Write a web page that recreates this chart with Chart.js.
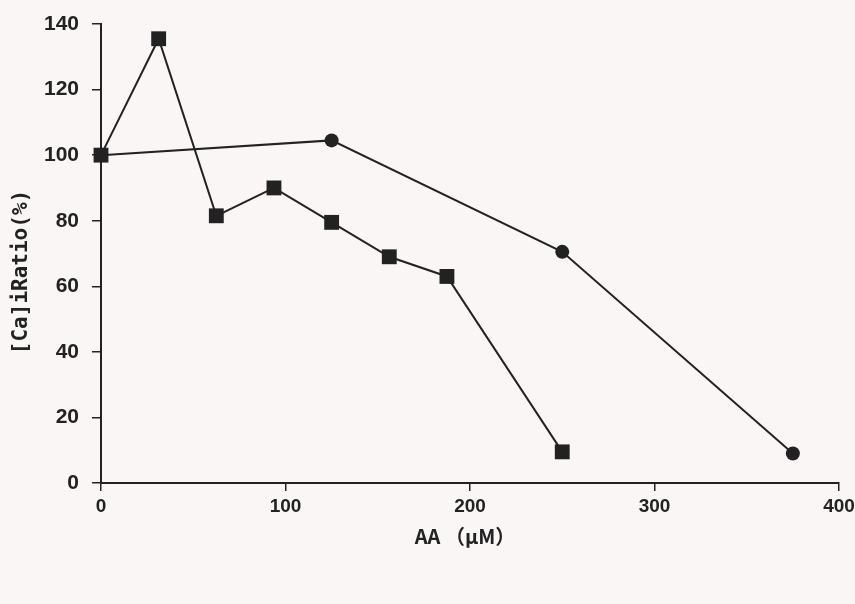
<!DOCTYPE html>
<html>
<head>
<meta charset="utf-8">
<script src="https://cdn.jsdelivr.net/npm/chart.js@4/dist/chart.umd.min.js"></script>
<style>
  html, body { margin: 0; padding: 0; background: #faf6f6; }
  #wrap { width: 855px; height: 604px; }
</style>
</head>
<body>
<div id="wrap"><canvas id="chart" width="855" height="604"></canvas></div>
<script>
// ---------- Data ----------
const squareX = [0, 31.25, 62.5, 93.75, 125, 156.25, 187.5, 250];
const squareY = [100, 135.5, 81.5, 90, 79.5, 69, 63, 9.5];
const circleX = [0, 125, 250, 375];
const circleY = [100, 104.5, 70.5, 9];

const xTitle = 'AA （μM）';
const yTitle = '[Ca]iRatio(%)';

const ink = '#222';
const yTickFont = { family: '"Liberation Sans", Arial, sans-serif', size: 21, weight: 'bold' };
const xTickFont = { family: '"Liberation Sans", Arial, sans-serif', size: 19, weight: 'bold' };

function toPoints(xs, ys) {
    return xs.map((x, i) => ({ x: x, y: ys[i] }));
}

// ---------- Axis titles ----------
const axisTitles = {
    id: 'axisTitles',
    afterDraw(chart) {
        const ctx = chart.ctx;
        ctx.save();
        ctx.fillStyle = ink;
        ctx.textAlign = 'center';
        ctx.textBaseline = 'middle';
        ctx.font = 'bold 20px "Noto Sans CJK JP", sans-serif';
        ctx.fillText(xTitle, 465, 536);
        ctx.translate(22, 272);
        ctx.rotate(-Math.PI / 2);
        ctx.font = 'bold 21px "DejaVu Sans Mono", monospace';
        ctx.fillText(yTitle, 0, 0);
        ctx.restore();
    }
};

// ---------- Chart ----------
const ctx = document.getElementById('chart').getContext('2d');
new Chart(ctx, {
    type: 'scatter',
    data: {
        datasets: [
            {
                label: 'square',
                data: toPoints(squareX, squareY),
                showLine: true,
                clip: false,
                borderColor: ink,
                borderWidth: 2,
                pointStyle: 'rect',
                pointRadius: 10.5,
                pointBackgroundColor: ink,
                pointBorderColor: ink,
                pointBorderWidth: 0
            },
            {
                label: 'circle',
                data: toPoints(circleX, circleY),
                showLine: true,
                clip: false,
                borderColor: ink,
                borderWidth: 2,
                pointStyle: 'circle',
                pointRadius: 7,
                pointBackgroundColor: ink,
                pointBorderColor: ink,
                pointBorderWidth: 0
            }
        ]
    },
    options: {
        responsive: false,
        animation: false,
        layout: { padding: { top: 24, right: 16, left: 0, bottom: 0 } },
        plugins: { legend: { display: false }, tooltip: { enabled: false } },
        scales: {
            x: {
                type: 'linear',
                min: 0, max: 400,
                afterFit: s => { s.height = 121; s.paddingRight = 0; s.paddingLeft = 0; },
                border: { display: true, color: ink, width: 2 },
                grid: { drawOnChartArea: false, drawTicks: true, tickLength: 8, color: ink, lineWidth: 1.5 },
                ticks: { stepSize: 100, color: ink, font: xTickFont, padding: 4, maxRotation: 0 }
            },
            y: {
                type: 'linear',
                min: 0, max: 140,
                afterFit: s => { s.width = 101; s.paddingTop = 0; s.paddingBottom = 0; },
                border: { display: true, color: ink, width: 2 },
                grid: { drawOnChartArea: false, drawTicks: true, tickLength: 9, color: ink, lineWidth: 1.5 },
                ticks: { stepSize: 20, color: ink, font: yTickFont, padding: 13 }
            }
        }
    },
    plugins: [axisTitles]
});
</script>
</body>
</html>
